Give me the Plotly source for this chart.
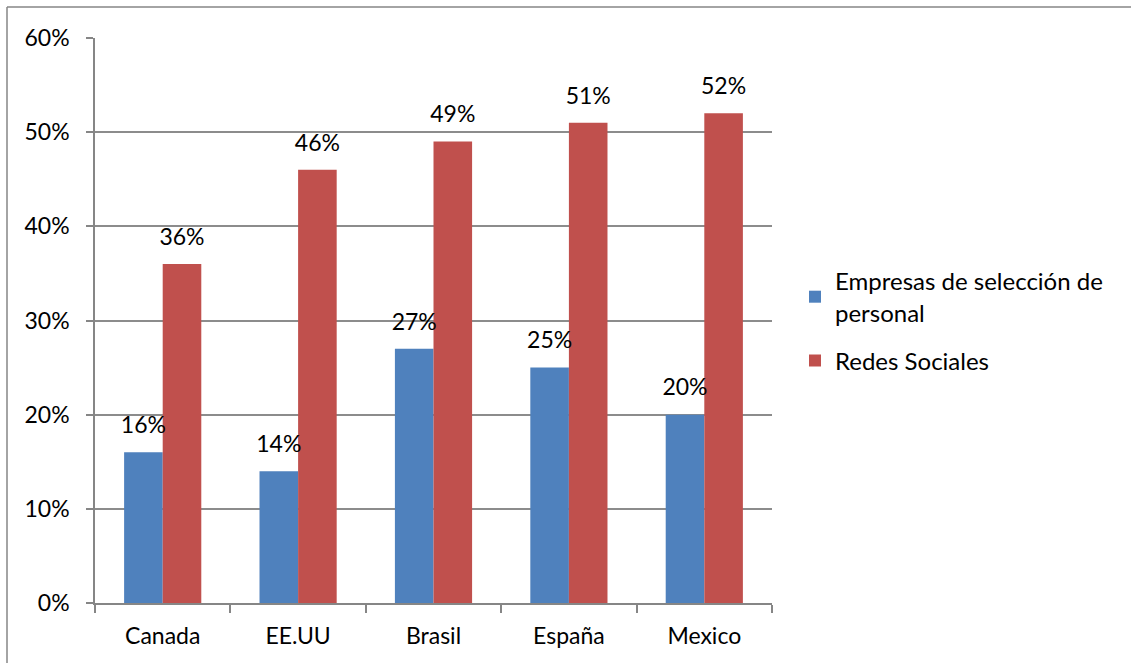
import plotly.graph_objects as go

categories = ["Canada", "EE.UU", "Brasil", "España", "Mexico"]
empresas = [0.16, 0.14, 0.27, 0.25, 0.20]
redes = [0.36, 0.46, 0.49, 0.51, 0.52]
series_names = ["Empresas de selección de<br>personal", "Redes Sociales"]
tick_vals = [0, 0.1, 0.2, 0.3, 0.4, 0.5, 0.6]
tick_text = ["0%", "10%", "20%", "30%", "40%", "50%", "60%"]

W, H = 1131, 663
ml, mr, mt, mb = 95, 359, 38, 60
pw, ph = W - ml - mr, H - mt - mb

FAM = "Lato, Open Sans, sans-serif"
font = dict(family=FAM, size=23, color="#000000")
colors = ["#4F81BD", "#C0504D"]

fig = go.Figure()
for i, (name, vals, col) in enumerate(zip(series_names, [empresas, redes], colors)):
    fig.add_trace(go.Bar(x=categories, y=vals, name=name, legendgroup=f"g{i}",
                         marker=dict(color=col, line=dict(width=0))))
for vals in [empresas, redes]:
    fig.add_trace(go.Scatter(x=categories, y=vals, mode="markers+text",
                             marker=dict(size=20, opacity=0),
                             text=[f"{round(v*100)}%" for v in vals],
                             textposition="top center", textfont=font,
                             showlegend=False, hoverinfo="skip", cliponaxis=False))

fig.update_layout(
    width=W, height=H,
    margin=dict(l=ml, r=mr, t=mt, b=mb, pad=0),
    paper_bgcolor="white", plot_bgcolor="white",
    barmode="group", bargap=0.43, bargroupgap=0,
    scattermode="group", scattergap=0.43,
    font=font,
    showlegend=True,
    legend=dict(x=(795 - ml) / pw, y=(H - 259 - mb) / ph, xanchor="left", yanchor="top",
                font=dict(family=FAM, size=24, color="#000000"),
                traceorder="grouped",
                itemwidth=30, tracegroupgap=14, bgcolor="rgba(0,0,0,0)"),
    xaxis=dict(showline=True, linecolor="#868686", linewidth=1.5,
               ticks="outside", tickson="boundaries", ticklen=8, tickcolor="#868686",
               tickwidth=1.5, showgrid=False, tickfont=font, ticklabelstandoff=12),
    yaxis=dict(range=[0, 0.6], tickvals=tick_vals, ticktext=tick_text,
               showline=True, linecolor="#868686", linewidth=1.5,
               ticks="outside", ticklen=7, tickcolor="#868686", tickwidth=1.5,
               showgrid=True, gridcolor="#8c8c8c", gridwidth=1.5,
               tickfont=font, zeroline=False, ticklabelstandoff=12),
)

# outer frame of the chart (extends past image right/bottom)
fig.add_shape(type="line", xref="paper", yref="paper",
              x0=(7 - ml) / pw, x1=(W + 10 - ml) / pw,
              y0=(H - 7 - mb) / ph, y1=(H - 7 - mb) / ph,
              line=dict(color="#868686", width=1.5))
fig.add_shape(type="line", xref="paper", yref="paper",
              x0=(7 - ml) / pw, x1=(7 - ml) / pw,
              y0=(H - 7 - mb) / ph, y1=-(mb + 10) / ph,
              line=dict(color="#868686", width=1.5))

fig.write_html("out.html")
